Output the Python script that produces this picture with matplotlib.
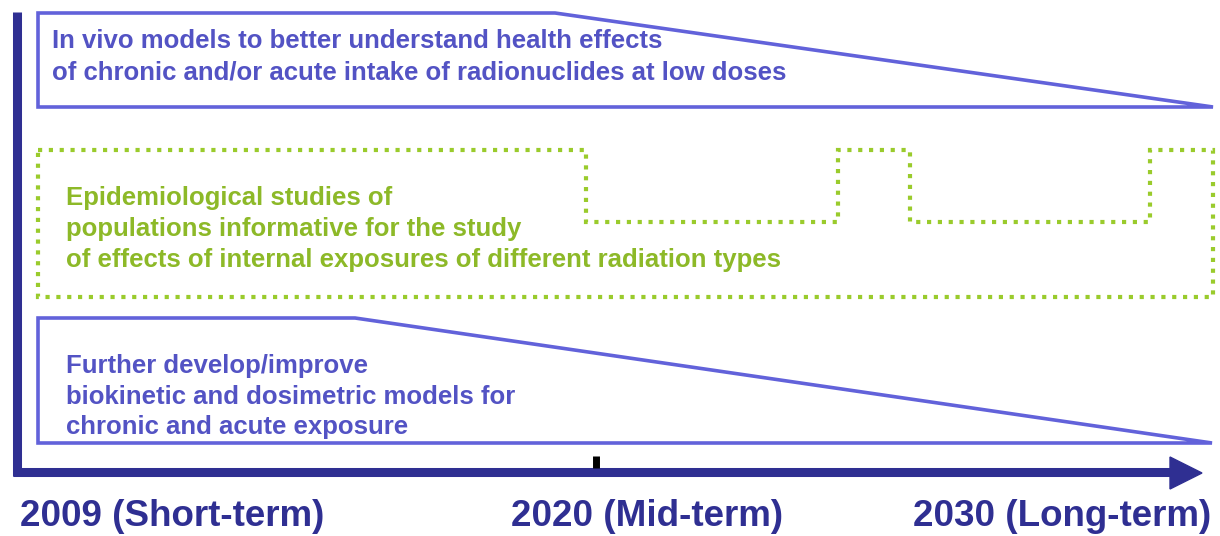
import matplotlib
matplotlib.use("Agg")
import matplotlib.pyplot as plt
from matplotlib.patches import Polygon

# ---- content ----
timeline_labels = ["2009 (Short-term)", "2020 (Mid-term)", "2030 (Long-term)"]
top_text = ["In vivo models to better understand health effects",
            "of chronic and/or acute intake of radionuclides at low doses"]
mid_text = ["Epidemiological studies of",
            "populations informative for the study",
            "of effects of internal exposures of different radiation types"]
bot_text = ["Further develop/improve",
            "biokinetic and dosimetric models for",
            "chronic and acute exposure"]

# outline vertices (diagram units = pixels of the 1220x536 canvas)
top_shape_x = [38, 555, 1213, 38]
top_shape_y = [13, 13, 107, 107]
mid_shape_x = [38, 586, 586, 838, 838, 910, 910, 1150, 1150, 1213, 1213, 38]
mid_shape_y = [150, 150, 222, 222, 150, 150, 222, 222, 150, 150, 297, 297]
bot_shape_x = [38, 355, 1212, 38]
bot_shape_y = [318, 318, 443, 443]

BLUE = "#6262DA"
BLUE_TXT = "#5353C4"
GREEN = "#9ACB2C"
GREEN_TXT = "#8DB928"
NAVY = "#2F2F92"

fig = plt.figure(figsize=(12.2, 5.36), dpi=100)
ax = fig.add_axes([0, 0, 1, 1])
ax.set_xlim(0, 1220)
ax.set_ylim(536, 0)
ax.axis("off")

FONT = "Liberation Sans"
FS = 18.5

ax.add_patch(Polygon(list(zip(top_shape_x, top_shape_y)), closed=True,
                     fill=False, edgecolor=BLUE, lw=2.6, joinstyle="miter"))
ax.add_patch(Polygon(list(zip(bot_shape_x, bot_shape_y)), closed=True,
                     fill=False, edgecolor=BLUE, lw=2.6, joinstyle="miter"))
ax.add_patch(Polygon(list(zip(mid_shape_x, mid_shape_y)), closed=True,
                     fill=False, edgecolor=GREEN, lw=3.0,
                     linestyle=(0, (1.0, 1.6))))

for i, t in enumerate(top_text):
    ax.text(52, 48 + i * 31, t, color=BLUE_TXT, fontsize=FS, fontweight="bold",
            family=FONT, va="baseline", ha="left")
for i, t in enumerate(mid_text):
    ax.text(66, 205 + i * 31, t, color=GREEN_TXT, fontsize=FS, fontweight="bold",
            family=FONT, va="baseline", ha="left")
for i, t in enumerate(bot_text):
    ax.text(66, 373 + i * 30.5, t, color=BLUE_TXT, fontsize=FS, fontweight="bold",
            family=FONT, va="baseline", ha="left")

# axes of the timeline
ax.plot([16.5, 16.5], [12, 476], color=NAVY, lw=6.5, solid_capstyle="butt")
ax.plot([13, 1172], [471.5, 471.5], color=NAVY, lw=6.5, solid_capstyle="butt")
ax.add_patch(Polygon([(1170, 457), (1202, 473), (1170, 489)], closed=True,
                     facecolor=NAVY, edgecolor=NAVY))
ax.plot([596, 596], [456, 468], color="black", lw=5, solid_capstyle="butt")

label_x = [20, 647, 1211]
label_ha = ["left", "center", "right"]
for x, ha, t in zip(label_x, label_ha, timeline_labels):
    ax.text(x, 526, t, color=NAVY, fontsize=26.5, fontweight="bold",
            family=FONT, va="baseline", ha=ha)

fig.savefig("out.png", dpi=100, facecolor="white")
